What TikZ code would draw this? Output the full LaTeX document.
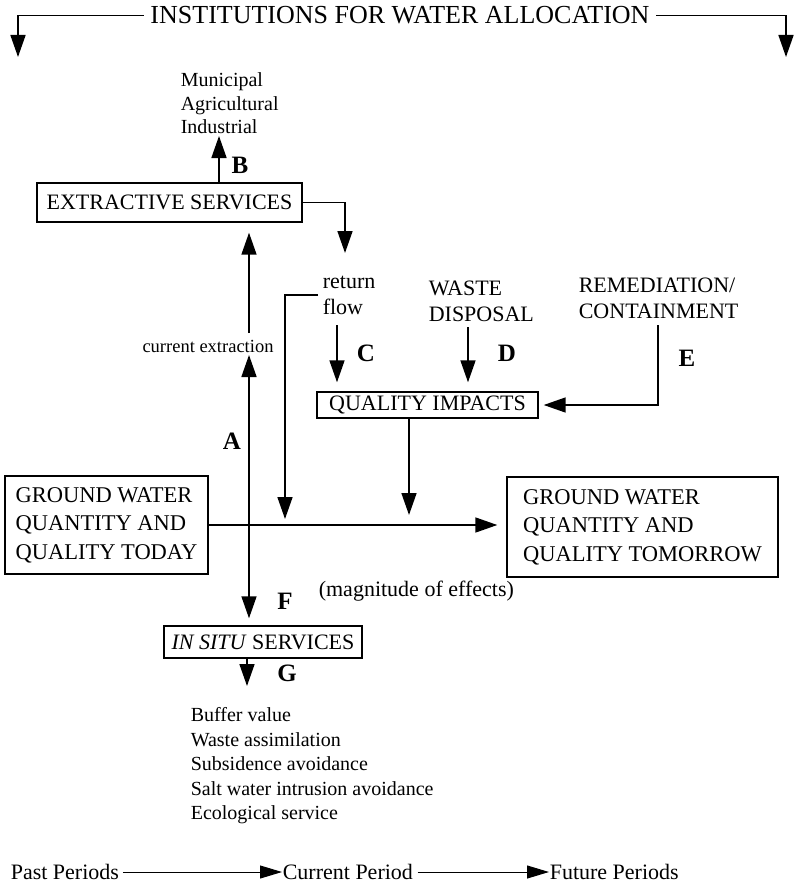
\documentclass[tikz,border=0pt]{standalone}
\usepackage{fontspec}
\setmainfont{Liberation Serif}
\usetikzlibrary{arrows.meta}
\begin{document}
\begin{tikzpicture}[x=1pt,y=-1pt,
  line width=1.6pt,
  arr/.style={-{Triangle[length=22pt,width=15pt]}},
  darr/.style={{Triangle[length=22pt,width=15pt]}-{Triangle[length=22pt,width=15pt]}},
  box/.style={draw,line width=1.4pt,inner sep=2pt},
  big/.style={font=\fontsize{22}{26}\selectfont},
  lbl/.style={font=\fontsize{25}{28}\selectfont\bfseries,inner sep=0pt},
  txt/.style={inner sep=0pt}]
\useasboundingbox (0,0) rectangle (797,891);

% title
\node[txt,font=\fontsize{26}{30}\selectfont,anchor=base] (title) at (400,24) {INSTITUTIONS FOR WATER ALLOCATION};
\coordinate (tl) at (18,57);
\coordinate (tr) at (786,57);
\draw[arr] ([xshift=-6pt]title.west) -| (tl);
\draw[arr] ([xshift=6pt]title.east) -| (tr);

% extractive services
\node[box,big,minimum width=265pt,minimum height=39pt] (es) at (169.5,202.5) {EXTRACTIVE SERVICES};
\node[txt,align=left,anchor=north west,font=\fontsize{20}{23.5}\selectfont] (muni) at (180,72) {Municipal\\Agricultural\\Industrial};
\coordinate (Btip) at (219,136);
\draw[arr] (es.north -| Btip) -- (Btip);
\node[lbl] (B) at (240,165) {B};
\coordinate (rfTip) at (345,253);
\draw[arr] (es.east) -| (rfTip);

% current extraction / A
\node[txt,font=\fontsize{18.5}{21}\selectfont] (curext) at (208,346) {current extraction};
\coordinate (a1) at (249,333);
\draw[arr,shorten >=10pt] (a1) -- (es.south -| a1);
\node[box,big,minimum width=198pt,minimum height=32pt] (insitu) at (263,642) {\textit{IN SITU} SERVICES};
\coordinate (aTop) at (249,355);
\draw[darr,shorten >=7pt] (aTop) -- (insitu.north -| aTop);
\node[lbl] (A) at (232,441) {A};
\node[lbl] (F) at (285,601) {F};
\node[txt,big,anchor=west] (mag) at (318,591) {(magnitude of effects)};

% ground water boxes
\node[box,big,align=left,minimum width=203pt,minimum height=98pt,font=\fontsize{22.5}{28.5}\selectfont] (gwt) at (106.5,525) {GROUND WATER\\QUANTITY AND\\QUALITY TODAY};
\node[box,big,align=left,minimum width=271pt,minimum height=100pt,font=\fontsize{22.5}{28.5}\selectfont] (gwm) at (642.5,527) {GROUND WATER\\QUANTITY AND\\QUALITY TOMORROW};
\draw[arr,shorten >=9pt] (gwt.east) -- (gwt.east -| gwm.west);

% return flow
\node[txt,big,align=left,anchor=west] (rflow) at (322,295) {return\\flow};
\coordinate (rfLow) at (285,519);
\draw[arr] ([xshift=-4pt]rflow.west) -| (rfLow);

% quality impacts
\node[box,big,minimum width=221pt,minimum height=26pt] (qi) at (427.5,405) {QUALITY IMPACTS};
\coordinate (cTop) at (337,325);
\draw[arr,shorten >=9pt] (cTop) -- (qi.north -| cTop);
\node[lbl] (C) at (366,353) {C};

\node[txt,big,align=left,anchor=west] (waste) at (428,301.5) {WASTE\\DISPOSAL};
\coordinate (dTop) at (468,327);
\draw[arr,shorten >=9pt] (dTop) -- (qi.north -| dTop);
\node[lbl] (D) at (507,353) {D};

\node[txt,big,align=left,anchor=west] (rem) at (578,298.5) {REMEDIATION/\\CONTAINMENT};
\coordinate (eTop) at (658,325);
\draw[arr,shorten >=5pt] (eTop) |- (qi.east);
\node[lbl] (E) at (687,358) {E};

\coordinate (qTip) at (409,515);
\draw[arr] (qi.south -| qTip) -- (qTip);

% in situ outputs
\coordinate (gTip) at (247,686);
\draw[arr] (insitu.south -| gTip) -- (gTip);
\node[lbl] (G) at (287,673) {G};
\node[txt,align=left,anchor=north west,font=\fontsize{20}{24.5}\selectfont] (list) at (190,707) {Buffer value\\Waste assimilation\\Subsidence avoidance\\Salt water intrusion avoidance\\Ecological service};

% time line
\tikzset{tarr/.style={-{Triangle[length=22pt,width=13pt]},line width=1pt}}
\node[txt,big,anchor=west] (past) at (10,872) {Past Periods};
\node[txt,big,anchor=west] (cur) at (282,872) {Current Period};
\node[txt,big,anchor=west] (fut) at (549,872) {Future Periods};
\draw[tarr] ([xshift=3pt]past.east) -- (cur.west);
\draw[tarr] ([xshift=4pt]cur.east) -- (fut.west);
\end{tikzpicture}
\end{document}
